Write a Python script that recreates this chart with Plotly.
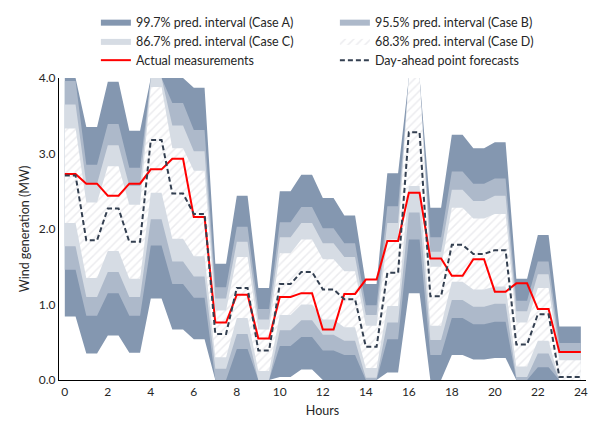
import plotly.graph_objects as go

hours = list(range(24))

actual = [2.73, 2.60, 2.44, 2.60, 2.79, 2.93, 2.16, 0.76, 1.13, 0.55, 1.10, 1.15,
          0.67, 1.14, 1.33, 1.84, 2.48, 1.61, 1.38, 1.60, 1.17, 1.28, 0.94, 0.37]
forecast = [2.71, 1.85, 2.27, 1.83, 3.18, 2.47, 2.20, 0.61, 1.22, 0.39, 1.27, 1.43,
            1.20, 1.07, 0.44, 1.42, 3.28, 1.11, 1.79, 1.67, 1.72, 0.47, 0.87, 0.04]

# Case A: 99.7% interval (bounded by 0 and 4 MW capacity)
a_up = [4.00, 3.35, 3.95, 3.30, 4.00, 4.00, 3.87, 1.54, 2.44, 1.22, 2.50, 2.72,
        2.41, 2.18, 1.27, 2.74, 4.00, 2.28, 3.25, 3.07, 3.15, 1.34, 1.92, 0.71]
a_lo = [0.84, 0.35, 0.59, 0.36, 1.08, 0.67, 0.54, 0.00, 0.00, 0.00, 0.04, 0.14,
        0.00, 0.00, 0.00, 0.10, 1.15, 0.00, 0.33, 0.27, 0.29, 0.00, 0.00, 0.00]
# Case B: 95.5% interval
b_up = [3.96, 2.85, 3.39, 2.81, 4.00, 3.67, 3.31, 1.23, 2.03, 0.94, 2.09, 2.29,
        2.01, 1.81, 0.99, 2.30, 4.00, 1.89, 2.76, 2.60, 2.67, 1.05, 1.57, 0.49]
b_lo = [1.46, 0.85, 1.15, 0.85, 1.78, 1.27, 1.09, 0.00, 0.41, 0.00, 0.45, 0.57,
        0.39, 0.33, 0.00, 0.54, 1.86, 0.33, 0.82, 0.74, 0.77, 0.00, 0.17, 0.00]
# Case C: 86.7% interval
c_up = [3.65, 2.60, 3.11, 2.57, 4.00, 3.37, 3.03, 1.08, 1.83, 0.80, 1.89, 2.08,
        1.81, 1.63, 0.86, 2.08, 4.00, 1.70, 2.52, 2.37, 2.44, 0.91, 1.40, 0.38]
c_lo = [1.77, 1.10, 1.43, 1.10, 2.13, 1.57, 1.37, 0.15, 0.61, 0.00, 0.66, 0.79,
        0.60, 0.52, 0.03, 0.76, 2.22, 0.53, 1.06, 0.97, 1.01, 0.04, 0.35, 0.00]
# Case D: 68.3% interval
d_up = [3.33, 2.35, 2.83, 2.32, 3.88, 3.07, 2.77, 0.92, 1.63, 0.67, 1.68, 1.86,
        1.60, 1.44, 0.72, 1.86, 4.00, 1.50, 2.28, 2.14, 2.20, 0.76, 1.22, 0.26]
d_lo = [2.08, 1.35, 1.71, 1.34, 2.48, 1.87, 1.64, 0.30, 0.82, 0.12, 0.86, 1.00,
        0.80, 0.70, 0.16, 0.98, 2.57, 0.72, 1.30, 1.20, 1.24, 0.18, 0.52, 0.00]

band_names = ["99.7% pred. interval (Case A)", "95.5% pred. interval (Case B)",
              "86.7% pred. interval (Case C)", "68.3% pred. interval (Case D)"]


def step_x(hrs):
    xs = []
    for h in hrs:
        xs += [h, h + 0.5 if h < hrs[-1] else h + 1]
    return xs


def step_y(vals):
    ys = []
    for v in vals:
        ys += [v, v]
    return ys


X = step_x(hours)
FONT = "Lato"

fig = go.Figure()

band_styles = [
    dict(fillcolor="#8497B0"),
    dict(fillcolor="#ADB9CA"),
    dict(fillcolor="#D6DCE4"),
    dict(fillcolor="white",
         fillpattern=dict(shape="/", fgcolor="#D9D9DF", bgcolor="white", size=6, solidity=0.25)),
]
bands = [(a_up, a_lo), (b_up, b_lo), (c_up, c_lo), (d_up, d_lo)]

for name, (up, lo), st in zip(band_names, bands, band_styles):
    fig.add_trace(go.Scatter(
        x=X + X[::-1], y=step_y(up) + step_y(lo)[::-1],
        fill="toself", mode="lines", line=dict(width=0),
        name=name, hoverinfo="skip", **st))

fig.add_trace(go.Scatter(x=X, y=step_y(actual), mode="lines", name="Actual measurements",
                         line=dict(color="#FF0000", width=2)))
fig.add_trace(go.Scatter(x=X, y=step_y(forecast), mode="lines", name="Day-ahead point forecasts",
                         line=dict(color="#333F50", width=2, dash="5px,3px")))

fig.update_layout(
    width=595, height=427,
    margin=dict(l=59, r=7, t=76, b=47),
    paper_bgcolor="white", plot_bgcolor="white",
    font=dict(family=FONT, size=12, color="#262626"),
    showlegend=True,
    legend=dict(orientation="h", x=0.07, y=1.235, xanchor="left", yanchor="top",
                entrywidth=194, entrywidthmode="pixels", traceorder="normal",
                font=dict(family=FONT, size=12.5, color="#262626"),
                bgcolor="rgba(0,0,0,0)", tracegroupgap=0),
    xaxis=dict(range=[-0.27, 24.24], tickvals=list(range(0, 25, 2)),
               showgrid=False, zeroline=False, showline=True, linecolor="black", linewidth=1.2,
               ticks="", title=dict(text="Hours", font=dict(size=12.5), standoff=8)),
    yaxis=dict(range=[0, 4], tickvals=[0, 1, 2, 3, 4], tickformat=".1f",
               showgrid=False, zeroline=False, showline=True, linecolor="black", linewidth=1.2,
               ticks="", title=dict(text="Wind generation (MW)", font=dict(size=12.5), standoff=6)),
)

fig.write_html("out.html")
